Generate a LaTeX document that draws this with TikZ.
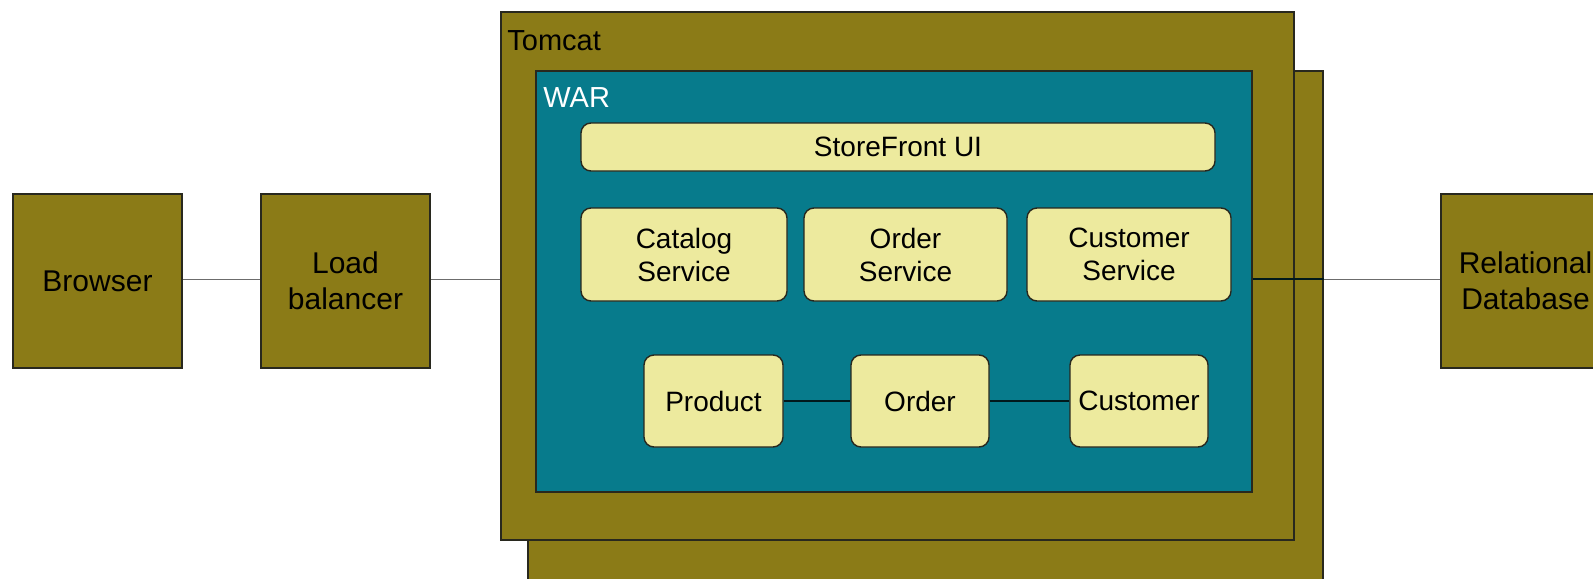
\documentclass[tikz,border=0pt]{standalone}
\usepackage{fontspec}
\setmainfont{Liberation Sans}
\definecolor{olive}{RGB}{139,123,23}
\definecolor{teal}{RGB}{7,123,140}
\definecolor{pale}{RGB}{237,234,158}
\definecolor{edge}{RGB}{40,40,30}
\tikzset{
  outerbox/.style={draw=edge, line width=0.7pt, fill=olive, align=center, inner sep=0pt,
    font=\fontsize{15}{18}\selectfont, minimum width=84.5pt, minimum height=87pt},
  container/.style={draw=edge, line width=0.7pt, inner sep=0pt},
  compbox/.style={draw=edge, line width=0.7pt, fill=pale, rounded corners=5pt, align=center,
    inner sep=0pt, font=\fontsize{14}{16.5}\selectfont},
  wire/.style={draw=gray!85!black, line width=0.5pt},
  darkwire/.style={draw=black!80!teal, line width=0.7pt},
  label/.style={anchor=base west, inner sep=0pt, font=\fontsize{14.5}{17}\selectfont}
}
\begin{document}
\begin{tikzpicture}[x=0.5pt,y=-0.5pt]
\useasboundingbox (0,0) rectangle (1593,578);
% containers
\node[container, fill=olive, minimum width=397.5pt, minimum height=264.5pt] (shadow) at (925.5,335.5) {};
\node[container, fill=olive, minimum width=396.5pt, minimum height=264pt] (tomcat) at (897.5,276) {};
\node[container, fill=teal, minimum width=358pt, minimum height=210.5pt] (war) at (894,281.5) {};
\node[label] (tomcatlbl) at (507,50) {Tomcat};
\node[label, text=white] (warlbl) at (543,107) {WAR};
% outer boxes
\node[outerbox] (browser) at (97.5,281) {Browser};
\node[outerbox] (lb) at (345.5,281) {Load\\balancer};
\node[outerbox] (db) at (1525.5,281) {Relational\\Database};
% components
\node[compbox, minimum width=317pt, minimum height=24pt] (ui) at (898,147) {StoreFront UI};
\node[compbox, minimum width=103pt, minimum height=46.5pt] (catalog) at (684,254.5) {Catalog\\Service};
\node[compbox, minimum width=101.5pt, minimum height=46.5pt] (ordersvc) at (905.5,254.5) {Order\\Service};
\node[compbox, minimum width=102pt, minimum height=46.5pt] (custsvc) at (1129,254.5) {Customer\\Service};
\node[compbox, minimum width=69.5pt, minimum height=46pt] (product) at (713.5,401) {Product};
\node[compbox, minimum width=69pt, minimum height=46pt] (order) at (920,401) {Order};
\node[compbox, minimum width=69pt, minimum height=46pt] (customer) at (1139,401) {Customer};
% connectors
\draw[wire] ([yshift=1pt]browser.east) -- ([yshift=1pt]lb.west);
\draw[wire] ([yshift=1pt]lb.east) -- ([yshift=1pt]lb.east -| tomcat.west);
\draw[darkwire] ([yshift=1pt]db.west -| war.east) -- ([yshift=1pt]shadow.east |- db.west);
\draw[wire] ([yshift=1pt]shadow.east |- db.west) -- ([yshift=1pt]db.west);
\draw[darkwire] (product) -- (order);
\draw[darkwire] (order) -- (customer);
\end{tikzpicture}
\end{document}
